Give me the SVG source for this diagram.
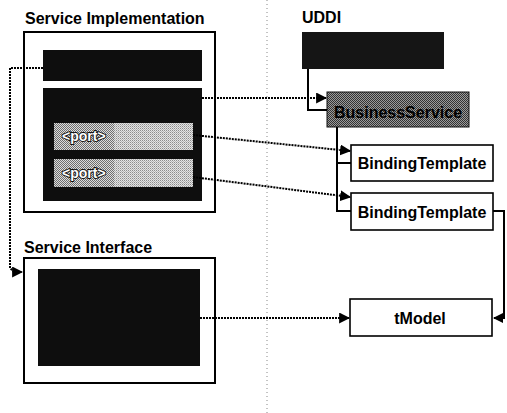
<svg xmlns="http://www.w3.org/2000/svg" width="507" height="413" viewBox="0 0 507 413">
<defs>
<pattern id="chkMid" width="2" height="2" patternUnits="userSpaceOnUse">
<rect width="2" height="2" fill="#9a9a9a"/><rect width="1" height="1" fill="#333"/><rect x="1" y="1" width="1" height="1" fill="#333"/>
</pattern>
<pattern id="chkLight" width="2" height="2" patternUnits="userSpaceOnUse">
<rect width="2" height="2" fill="#dcdcdc"/><rect width="1" height="1" fill="#6e6e6e"/><rect x="1" y="1" width="1" height="1" fill="#6e6e6e"/>
</pattern>
<pattern id="chkPale" width="2" height="2" patternUnits="userSpaceOnUse">
<rect width="2" height="2" fill="#e4e4e4"/><rect width="1" height="1" fill="#8c8c8c"/><rect x="1" y="1" width="1" height="1" fill="#b4b4b4"/>
</pattern>
<marker id="arr" viewBox="0 0 10 10" refX="9" refY="5" markerWidth="5.5" markerHeight="5.5" orient="auto" markerUnits="strokeWidth">
<path d="M0,0 L10,5 L0,10 Z" fill="#000"/>
</marker>
<marker id="arrS" viewBox="0 0 10 10" refX="9" refY="5" markerWidth="5" markerHeight="5" orient="auto" markerUnits="strokeWidth">
<path d="M0,0 L10,5 L0,10 Z" fill="#000"/>
</marker>
</defs>
<style>
.title{font-family:"Liberation Sans",Arial,sans-serif;font-weight:bold;font-size:16px;fill:#000}
.lbl{font-family:"Liberation Sans",Arial,sans-serif;font-weight:bold;font-size:16px;fill:#000}
.port{font-family:"Liberation Sans",Arial,sans-serif;font-weight:bold;font-size:14px;fill:#fff;stroke:#111;stroke-width:1.8;paint-order:stroke}
.frame{fill:#fff;stroke:#000;stroke-width:2}
.dark{fill:#0e0e0e}
.box{fill:#fff;stroke:#000;stroke-width:1.6}
.dot{fill:none;stroke:#000;stroke-width:2;stroke-dasharray:2 1}
.solid{fill:none;stroke:#000;stroke-width:2}
.sep{fill:none;stroke:#888;stroke-width:1;stroke-dasharray:1 3}
</style>
<rect width="507" height="413" fill="#fff"/>
<line class="sep" x1="267" y1="0" x2="267" y2="413"/>

<g id="service-implementation">
<text class="title" x="25" y="24">Service Implementation</text>
<rect class="frame" x="24" y="32" width="191" height="180"/>
<rect id="impl-top" class="dark" x="43" y="50" width="159" height="31"/>
<rect id="impl-binding" class="dark" x="43" y="88" width="159" height="113"/>
</g>
<g id="port1">
<rect x="54" y="123" width="60" height="27" fill="url(#chkLight)"/>
<rect x="114" y="123" width="79" height="27" fill="url(#chkPale)"/>
<text class="port" x="62" y="141">&lt;port&gt;</text>
</g>
<g id="port2">
<rect x="54" y="159" width="60" height="28" fill="url(#chkLight)"/>
<rect x="114" y="159" width="79" height="28" fill="url(#chkPale)"/>
<text class="port" x="62" y="178">&lt;port&gt;</text>
</g>

<g id="service-interface">
<text class="title" x="24" y="253">Service Interface</text>
<rect class="frame" x="24" y="258" width="191" height="125"/>
<rect class="dark" x="38" y="269" width="162" height="97"/>
</g>

<g id="uddi">
<text class="title" x="302" y="23">UDDI</text>
<rect x="302" y="32" width="142" height="37" fill="#151515"/>
</g>
<g id="business-service">
<rect x="327" y="92" width="142" height="35" fill="url(#chkMid)" stroke="#111" stroke-width="1"/>
<text class="lbl" x="398" y="118" text-anchor="middle" fill="#000">BusinessService</text>
</g>
<g id="binding-template-1">
<rect class="box" x="351" y="145" width="142" height="36"/>
<text class="lbl" x="422" y="169" text-anchor="middle">BindingTemplate</text>
</g>
<g id="binding-template-2">
<rect class="box" x="351" y="193" width="142" height="37"/>
<text class="lbl" x="422" y="218" text-anchor="middle">BindingTemplate</text>
</g>
<g id="tmodel">
<rect class="box" x="350" y="299" width="142" height="37"/>
<text class="lbl" x="420" y="324" text-anchor="middle">tModel</text>
</g>

<g id="connectors">
<path class="solid" d="M308,69 V110 H327"/>
<path class="solid" d="M337,127 V211 H351"/>
<path class="solid" d="M337,163 H351"/>
<path class="solid" d="M493,211 H504 V318 H494" marker-end="url(#arrS)"/>
<path class="dot" d="M43,68 H10 V268 L14,272 H22" marker-end="url(#arr)"/>
<path class="dot" d="M202,98 H326" marker-end="url(#arr)"/>
<path class="dot" d="M193,135 L350,151" marker-end="url(#arr)"/>
<path class="dot" d="M193,177 L350,197" marker-end="url(#arr)"/>
<path class="dot" d="M200,318 H349" marker-end="url(#arr)"/>
</g>
</svg>
